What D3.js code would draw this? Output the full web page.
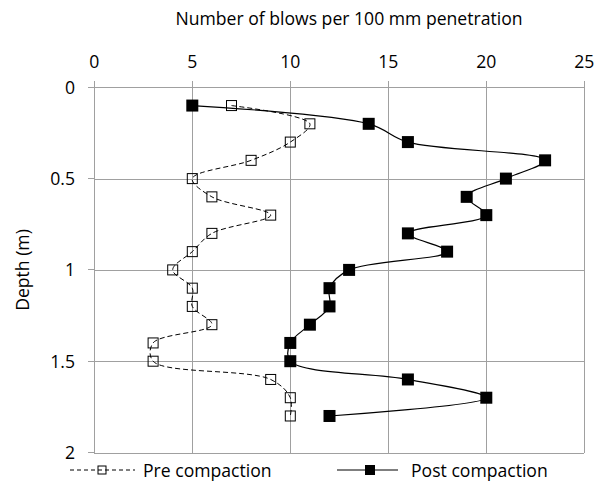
<!DOCTYPE html>
<html>
<head>
<meta charset="utf-8">
<script src="https://cdn.jsdelivr.net/npm/d3@7"></script>
<style>
  body { margin: 0; background: #fff; }
  text { font-family: 'Open Sans', sans-serif; font-size: 17.6px; fill: #000; }
</style>
</head>
<body>
<div id="vis"></div>
<script>
// depth profile, blows per 100 mm

const depths = [0.1, 0.2, 0.3, 0.4, 0.5, 0.6, 0.7, 0.8, 0.9, 1.0, 1.1, 1.2, 1.3, 1.4, 1.5, 1.6, 1.7, 1.8]
const preBlows = [7, 11, 10, 8, 5, 6, 9, 6, 5, 4, 5, 5, 6, 3, 3, 9, 10, 10]
const postBlows = [5, 14, 16, 23, 21, 19, 20, 16, 18, 13, 12, 12, 11, 10, 10, 16, 20, 12]
const xTicks = [0, 5, 10, 15, 20, 25]
const yTicks = [0, 0.5, 1, 1.5, 2]
const seriesNames = ['Pre compaction', 'Post compaction']

;(function() {
  const svg_width = 613,
        svg_height = 482,
        svg = d3.select('#vis').append('svg')

  svg.attr('width', svg_width)
    .attr('height', svg_height)

  const left = 94.3, right = 584.3, top = 87.3, bottom = 452.5

  const x = d3.scaleLinear().domain([0, 25]).range([left, right])
  const y = d3.scaleLinear().domain([0, 2]).range([top, bottom])

  const grid = '#a0a0a0'

  // grid + ticks
  const xAxis = svg.append('g')
    .attr('transform', `translate(0,${top})`)
    .call(d3.axisTop(x).tickValues(xTicks).tickSize(-(bottom - top)).tickPadding(0).tickFormat(''))
  const yAxis = svg.append('g')
    .attr('transform', `translate(${left},0)`)
    .call(d3.axisLeft(y).tickValues(yTicks).tickSize(-(right - left)).tickFormat(''))

  ;[xAxis, yAxis].forEach(a => {
    a.select('.domain').remove()
    a.selectAll('line').attr('stroke', grid).attr('shape-rendering', 'crispEdges')
  })

  // small outside tick stubs
  svg.selectAll('.xstub').data(xTicks).enter().append('line')
    .attr('x1', d => x(d)).attr('x2', d => x(d))
    .attr('y1', top - 6).attr('y2', top)
    .attr('stroke', grid).attr('shape-rendering', 'crispEdges')
  svg.selectAll('.ystub').data(yTicks).enter().append('line')
    .attr('x1', left - 6).attr('x2', left)
    .attr('y1', d => y(d)).attr('y2', d => y(d))
    .attr('stroke', grid).attr('shape-rendering', 'crispEdges')

  // tick labels
  svg.selectAll('.xlab').data(xTicks).enter().append('text')
    .attr('x', d => x(d))
    .attr('y', 67.5)
    .attr('text-anchor', 'middle')
    .text(d => d)
  svg.selectAll('.ylab').data(yTicks).enter().append('text')
    .attr('x', 75)
    .attr('y', d => y(d) + 6.5)
    .attr('text-anchor', 'end')
    .text(d => d)

  // titles
  svg.append('text')
    .attr('x', 349)
    .attr('y', 25)
    .attr('text-anchor', 'middle')
    .text('Number of blows per 100 mm penetration')

  svg.append('text')
    .attr('transform', 'translate(29,270) rotate(-90)')
    .attr('text-anchor', 'middle')
    .text('Depth (m)')

  // series
  const line = vals => d3.line()
    .x((d, i) => x(vals[i]))
    .y(d => y(d))
    .curve(d3.curveCatmullRom.alpha(0.5))(depths)

  svg.append('path')
    .attr('d', line(preBlows))
    .attr('fill', 'none')
    .attr('stroke', '#000')
    .attr('stroke-width', 1)
    .attr('stroke-dasharray', '5,3')

  svg.append('path')
    .attr('d', line(postBlows))
    .attr('fill', 'none')
    .attr('stroke', '#000')
    .attr('stroke-width', 1.2)

  const pre = 10, post = 12
  svg.selectAll('.pre').data(depths).enter().append('rect')
    .attr('x', (d, i) => x(preBlows[i]) - pre / 2)
    .attr('y', d => y(d) - pre / 2)
    .attr('width', pre).attr('height', pre)
    .attr('fill', 'none')
    .attr('stroke', '#000')

  svg.selectAll('.post').data(depths).enter().append('rect')
    .attr('x', (d, i) => x(postBlows[i]) - post / 2)
    .attr('y', d => y(d) - post / 2)
    .attr('width', post).attr('height', post)
    .attr('fill', '#000')

  // legend
  const leg = svg.append('g').attr('class', 'legend')
  const ly = 470

  leg.append('line')
    .attr('x1', 70).attr('x2', 135).attr('y1', ly).attr('y2', ly)
    .attr('stroke', '#000').attr('stroke-dasharray', '4,3')
  leg.append('rect')
    .attr('x', 98).attr('y', ly - 4).attr('width', 8).attr('height', 8)
    .attr('fill', 'none').attr('stroke', '#000')
  leg.append('text')
    .attr('x', 143).attr('y', ly + 6.5)
    .text(seriesNames[0])

  leg.append('line')
    .attr('x1', 337).attr('x2', 398).attr('y1', ly).attr('y2', ly)
    .attr('stroke', '#000').attr('stroke-width', 1.2)
  leg.append('rect')
    .attr('x', 365).attr('y', ly - 5).attr('width', 10).attr('height', 10)
    .attr('fill', '#000')
  leg.append('text')
    .attr('x', 411).attr('y', ly + 6.5)
    .text(seriesNames[1])
}())
</script>
</body>
</html>
